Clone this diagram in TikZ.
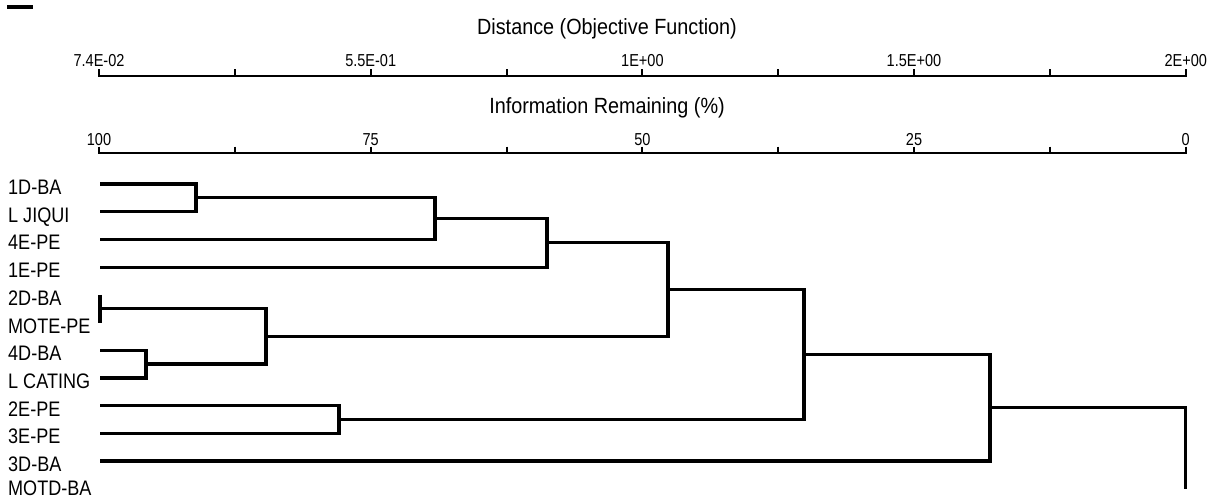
\documentclass[tikz,border=0pt]{standalone}
\usepackage{fontspec}
\setmainfont{Liberation Sans}
\newfontfamily\labfont[FakeStretch=0.86]{Liberation Sans}
\newfontfamily\tickfont[FakeStretch=0.84]{Liberation Sans}
\newfontfamily\titfont[FakeStretch=0.9]{Liberation Sans}
\begin{document}
\begin{tikzpicture}[x=1pt,y=-1pt,
  dend/.style={line width=3.2pt, line join=miter},
  axisline/.style={line width=2.5pt},
  tickmark/.style={line width=2pt},
  leaf/.style={anchor=base west, inner sep=0pt, font=\labfont\fontsize{21}{21}\selectfont},
  ticklab/.style={anchor=base, inner sep=0pt, font=\tickfont\fontsize{17.3}{17.3}\selectfont},
  axtitle/.style={anchor=base, inner sep=0pt, font=\titfont\fontsize{22}{22}\selectfont}]
\useasboundingbox (0,0) rectangle (1209,499);

% small bar top-left
\draw[line width=4pt] (7,7) -- (33,7);

% ---------- top axis ----------
\node[axtitle] (t1) at (607,34) {Distance (Objective Function)};
\coordinate (ta0) at (99,76);
\coordinate (ta8) at (1185.7,76);
\draw[axisline] (ta0) -- (ta8);
\foreach \k in {0,...,8} \draw[tickmark] ({99+135.84*\k},69) -- ({99+135.84*\k},76.5);
\node[ticklab] (d0) at (99,66) {7.4E-02};
\node[ticklab] (d2) at (370.7,66) {5.5E-01};
\node[ticklab] (d4) at (642.4,66) {1E+00};
\node[ticklab] (d6) at (914.0,66) {1.5E+00};
\node[ticklab] (d8) at (1185.7,66) {2E+00};

% ---------- bottom axis ----------
\node[axtitle] (t2) at (607,113.5) {Information Remaining (\%)};
\coordinate (ba0) at (99,153);
\coordinate (ba8) at (1185.7,153);
\draw[axisline] (ba0) -- (ba8);
\foreach \k in {0,...,8} \draw[tickmark] ({99+135.84*\k},146.5) -- ({99+135.84*\k},153.5);
\node[ticklab] (p0) at (99,145.5) {100};
\node[ticklab] (p2) at (370.7,145.5) {75};
\node[ticklab] (p4) at (642.4,145.5) {50};
\node[ticklab] (p6) at (914.0,145.5) {25};
\node[ticklab] (p8) at (1185.7,145.5) {0};

% ---------- leaf labels ----------
\node[leaf] (n0)  at (8,194.5) {1D-BA};
\node[leaf] (n1)  at (8,222.2) {L JIQUI};
\node[leaf] (n2)  at (8,249.9) {4E-PE};
\node[leaf] (n3)  at (8,277.6) {1E-PE};
\node[leaf] (n4)  at (8,305.3) {2D-BA};
\node[leaf] (n5)  at (8,333.0) {MOTE-PE};
\node[leaf] (n6)  at (8,360.7) {4D-BA};
\node[leaf] (n7)  at (8,388.4) {L CATING};
\node[leaf] (n8)  at (8,416.1) {2E-PE};
\node[leaf] (n9)  at (8,443.8) {3E-PE};
\node[leaf] (n10) at (8,471.5) {3D-BA};
\node[leaf] (n11) at (8,495.5) {MOTD-BA};

% ---------- leaf line starts ----------
\coordinate (l0)  at (100,184.0);
\coordinate (l1)  at (100,211.7);
\coordinate (l2)  at (100,239.4);
\coordinate (l3)  at (100,267.1);
\coordinate (l4)  at (100,294.8);
\coordinate (l5)  at (100,322.5);
\coordinate (l6)  at (100,350.2);
\coordinate (l7)  at (100,377.9);
\coordinate (l8)  at (100,405.6);
\coordinate (l9)  at (100,433.3);
\coordinate (l10) at (100,461.0);
\coordinate (l11) at (1185.7,488.7);

% ---------- merge points ----------
\coordinate (m1)  at (196,197.85);
\coordinate (m2)  at (435,218.6);
\coordinate (m3)  at (547,242.85);
\coordinate (m4)  at (100,308.65);
\coordinate (m5)  at (146,364.05);
\coordinate (m6)  at (266,336.35);
\coordinate (m7)  at (668,289.6);
\coordinate (m8)  at (339,419.45);
\coordinate (m9)  at (804,354.5);
\coordinate (m10) at (990,407.75);

% ---------- dendrogram ----------
\draw[dend] (l0) -| (m1) |- (l1);
\draw[dend] (m1) -| (m2) |- (l2);
\draw[dend] (m2) -| (m3) |- (l3);
\draw[dend] (l4) -| (m4) |- (l5);
\draw[dend] (l6) -| (m5) |- (l7);
\draw[dend] (m4) -| (m6) |- (m5);
\draw[dend] (m3) -| (m7) |- (m6);
\draw[dend] (l8) -| (m8) |- (l9);
\draw[dend] (m7) -| (m9) |- (m8);
\draw[dend] (m9) -| (m10) |- (l10);
\draw[dend] (m10) -| (l11);
\end{tikzpicture}
\end{document}
